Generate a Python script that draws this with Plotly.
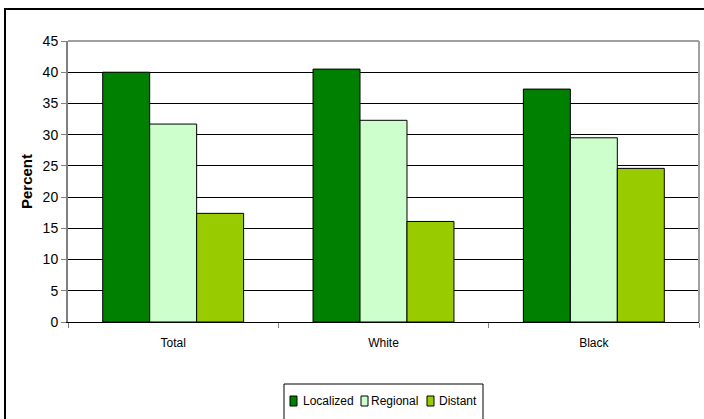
import plotly.graph_objects as go

# Stage at diagnosis, by race (percent of cases)
groups = ["Total", "White", "Black"]
localized = [40.0, 40.5, 37.3]
regional = [31.7, 32.3, 29.5]
distant = [17.4, 16.1, 24.6]

series = [
    ("Localized", localized, "#008000"),
    ("Regional", regional, "#CCFFCC"),
    ("Distant", distant, "#99CC00"),
]

W, H = 704, 419
L, R, T, B = 68, 5, 41, 97
pw, ph = W - L - R, H - T - B


def px_x(x):
    return (x - L) / pw


def px_y(y):
    return (H - B - y) / ph


fig = go.Figure()
for name, vals, col in series:
    fig.add_trace(go.Bar(
        x=groups, y=vals, name=name, showlegend=False,
        marker=dict(color=col, line=dict(color="#000000", width=1)),
    ))

font = "Liberation Sans, Arial, sans-serif"

shapes = [
    # gray frame on top and right of the plot area
    dict(type="line", xref="paper", yref="paper", x0=0, x1=1, y0=1, y1=1,
         line=dict(color="#A0A0A0", width=2), layer="above"),
    dict(type="line", xref="paper", yref="paper", x0=1, x1=1, y0=0, y1=1,
         line=dict(color="#A0A0A0", width=2), layer="above"),
    # outer chart frame
    dict(type="rect", xref="paper", yref="paper",
         x0=px_x(5), x1=px_x(740), y0=px_y(440), y1=px_y(9),
         line=dict(color="#000000", width=2), layer="above"),
    # legend frame
    dict(type="rect", xref="paper", yref="paper",
         x0=px_x(284), x1=px_x(483), y0=px_y(440), y1=px_y(384),
         line=dict(color="#000000", width=1), layer="above"),
]
annotations = []

# legend entries: swatch + label
swatch_x = [290, 361, 427]
label_x = [302, 370, 438]
for (name, _, col), sx, lx in zip(series, swatch_x, label_x):
    shapes.append(dict(
        type="rect", xref="paper", yref="paper",
        x0=px_x(sx), x1=px_x(sx + 7), y0=px_y(406), y1=px_y(396),
        fillcolor=col, line=dict(color="#000000", width=1), layer="above",
    ))
    annotations.append(dict(
        text=name, xref="paper", yref="paper",
        x=px_x(lx - 1), y=px_y(401), xanchor="left", yanchor="middle",
        showarrow=False, font=dict(size=12, family=font, color="#000000"),
    ))

fig.update_layout(
    width=W, height=H,
    margin=dict(l=L, r=R, t=T, b=B),
    paper_bgcolor="white", plot_bgcolor="white",
    barmode="group", bargap=0.33, bargroupgap=0,
    font=dict(family=font, size=12, color="#000000"),
    showlegend=False,
    xaxis=dict(
        showline=True, linecolor="#000000", linewidth=1,
        ticks="outside", ticklen=5, tickcolor="#808080",
        tickson="boundaries", showgrid=False,
        ticklabelstandoff=10,
        tickfont=dict(size=12),
    ),
    yaxis=dict(
        range=[0, 45], dtick=5, tick0=0,
        showline=True, linecolor="#808080", linewidth=2,
        ticks="outside", ticklen=5, tickcolor="#808080",
        showgrid=True, gridcolor="#000000", gridwidth=1,
        zeroline=False,
        tickfont=dict(size=14),
        title=dict(text="<b>Percent</b>", font=dict(size=15), standoff=6),
    ),
    shapes=shapes,
    annotations=annotations,
)

fig.write_html("out.html")
